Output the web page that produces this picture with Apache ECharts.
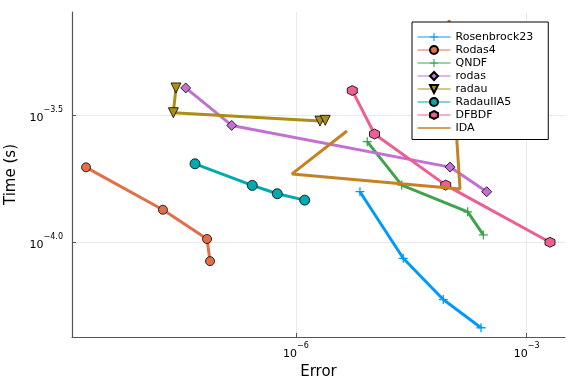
<!DOCTYPE html>
<html><head><meta charset="utf-8">
<script src="https://cdn.jsdelivr.net/npm/echarts@6/dist/echarts.min.js"></script>
<style>html,body{margin:0;padding:0;background:#fff}#c{width:576px;height:384px}</style>
</head><body><div id="c"></div>
<script>
// ---- data (Error, Time in seconds) ----
const seriesNames = ['Rosenbrock23','Rodas4','QNDF','rodas','radau','RadauIIA5','DFBDF','IDA'];
const rosenbrock23Err  = [6.79e-6, 2.48e-5, 8.22e-5, 2.55e-4];
const rosenbrock23Time = [1.578e-4, 8.63e-5, 5.94e-5, 4.60e-5];
const rodas4Err  = [1.86e-9, 1.86e-8, 6.97e-8, 7.62e-8];
const rodas4Time = [1.968e-4, 1.340e-4, 1.028e-4, 8.41e-5];
const qndfErr  = [8.45e-6, 2.37e-5, 1.71e-4, 2.73e-4];
const qndfTime = [2.483e-4, 1.675e-4, 1.315e-4, 1.067e-4];
const rodasErr  = [3.68e-8, 1.459e-7, 1.007e-4, 3.02e-4];
const rodasTime = [4.04e-4, 2.877e-4, 1.972e-4, 1.578e-4];
const radauErr  = [2.75e-8, 2.54e-8, 2.05e-6, 2.40e-6];
const radauTime = [4.04e-4, 3.228e-4, 2.992e-4, 3.013e-4];
const radauIIA5Err  = [4.86e-8, 2.70e-7, 5.71e-7, 1.297e-6];
const radauIIA5Time = [2.032e-4, 1.671e-4, 1.549e-4, 1.462e-4];
const dfbdfErr  = [5.40e-6, 1.050e-5, 8.85e-5, 2.01e-3];
const dfbdfTime = [3.945e-4, 2.661e-4, 1.675e-4, 9.98e-5];
const idaErr  = [4.60e-6, 8.87e-7, 1.358e-4, 9.77e-5];
const idaTime = [2.735e-4, 1.854e-4, 1.618e-4, 7.48e-4];

const xTickValues = [1e-6, 1e-3];
const xTickLabels = ['\u22126', '\u22123'];
const yTickValues = [1e-4, 3.16228e-4];
const yTickLabels = ['\u22124.0', '\u22123.5'];

const colors = ['#009af9','#e26f46','#3da44d','#c271d2','#ac8d18','#00a9ad','#ed5e93','#c68125'];
const plusPath = 'path://M-1.4,-10H1.4V-1.4H10V1.4H1.4V10H-1.4V1.4H-10V-1.4H-1.4Z';
const hexPath = 'path://M0,-10L8.66,-5L8.66,5L0,10L-8.66,5L-8.66,-5Z';
const lineIcon = 'path://M0,0H33V1.6H0Z';

const errs = [rosenbrock23Err, rodas4Err, qndfErr, rodasErr, radauErr, radauIIA5Err, dfbdfErr, idaErr];
const times = [rosenbrock23Time, rodas4Time, qndfTime, rodasTime, radauTime, radauIIA5Time, dfbdfTime, idaTime];
const symbols = [plusPath, 'circle', plusPath, 'diamond', 'triangle', 'circle', hexPath, 'none'];
const symSizes = [9, 9, 9, 10, 10, 10, 10, 0];
const rotates = [0, 0, 0, 0, 180, 0, 0, 0];

function zip(a, b) { return a.map((v, i) => [v, b[i]]); }
function pick(vals, labs, v) {
  let best = 0, bd = Infinity;
  vals.forEach((t, i) => { const d = Math.abs(Math.log10(t) - Math.log10(v)); if (d < bd) { bd = d; best = i; } });
  return labs[best];
}

const FONT = 'DejaVu Sans';
const series = seriesNames.map((name, i) => {
  const bordered = !(symbols[i] === plusPath || symbols[i] === 'none');
  return {
    name, type: 'line', data: zip(errs[i], times[i]),
    symbol: symbols[i], symbolSize: symSizes[i], symbolRotate: rotates[i],
    showSymbol: symbols[i] !== 'none',
    color: colors[i],
    lineStyle: { color: colors[i], width: 3 },
    itemStyle: { color: colors[i], borderColor: bordered ? '#000' : colors[i], borderWidth: bordered ? 0.8 : 0 },
    emphasis: { disabled: true }, animation: false, z: 2 + i
  };
});

const chart = echarts.init(document.getElementById('c'), null, { renderer: 'canvas' });
chart.setOption({
  animation: false,
  backgroundColor: '#fff',
  textStyle: { fontFamily: FONT },
  grid: { left: 72, right: 11, top: 12, bottom: 47, containLabel: false, outerBoundsMode: 'none' },
  xAxis: {
    type: 'log', logBase: 10, min: 1.222e-9, max: 3.15e-3,
    name: 'Error', nameLocation: 'middle', nameGap: 28,
    nameTextStyle: { fontFamily: FONT, fontSize: 15, color: '#000' },
    axisLine: { show: true, lineStyle: { color: '#555', width: 1.2 } },
    axisTick: { show: true, inside: true, length: 4, customValues: xTickValues, lineStyle: { color: '#555' } },
    splitLine: { show: true, lineStyle: { color: '#e9e9e9', width: 1 } },
    minorSplitLine: { show: false },
    axisLabel: {
      customValues: xTickValues, margin: 5,
      formatter: v => '{b|10}{s|' + pick(xTickValues, xTickLabels, v) + '}',
      rich: {
        b: { fontFamily: FONT, fontSize: 11, color: '#000', verticalAlign: 'bottom', lineHeight: 18 },
        s: { fontFamily: FONT, fontSize: 8, color: '#000', verticalAlign: 'top', lineHeight: 18 }
      }
    }
  },
  yAxis: {
    type: 'log', logBase: 10, min: 4.23e-5, max: 8.04e-4,
    name: 'Time (s)', nameLocation: 'middle', nameGap: 51,
    nameTextStyle: { fontFamily: FONT, fontSize: 15, color: '#000' },
    axisLine: { show: true, lineStyle: { color: '#555', width: 1.2 } },
    axisTick: { show: true, inside: true, length: 4, customValues: yTickValues, lineStyle: { color: '#555' } },
    splitLine: { show: true, lineStyle: { color: '#e9e9e9', width: 1 } },
    axisLabel: {
      customValues: yTickValues, margin: 9,
      formatter: v => '{b|10}{s|' + pick(yTickValues, yTickLabels, v) + '}',
      rich: {
        b: { fontFamily: FONT, fontSize: 11, color: '#000', verticalAlign: 'bottom', lineHeight: 18 },
        s: { fontFamily: FONT, fontSize: 8, color: '#000', verticalAlign: 'top', lineHeight: 18 }
      }
    }
  },
  legend: {
    orient: 'vertical', left: 412, top: 22,
    padding: [9.5, 15, 6, 5], itemGap: 2, itemWidth: 33, itemHeight: 10,
    borderColor: '#000', borderWidth: 1, backgroundColor: '#fff',
    textStyle: { fontFamily: FONT, fontSize: 11, color: '#000', lineHeight: 10 },
    lineStyle: { width: 1 },
    data: seriesNames.map((n, i) => symbols[i] === 'none'
      ? { name: n, icon: lineIcon, itemStyle: { color: colors[i], borderWidth: 0, opacity: 1 }, lineStyle: { color: colors[i] } }
      : { name: n }),
    selectedMode: false, z: 20
  },
  series
});
</script></body></html>
